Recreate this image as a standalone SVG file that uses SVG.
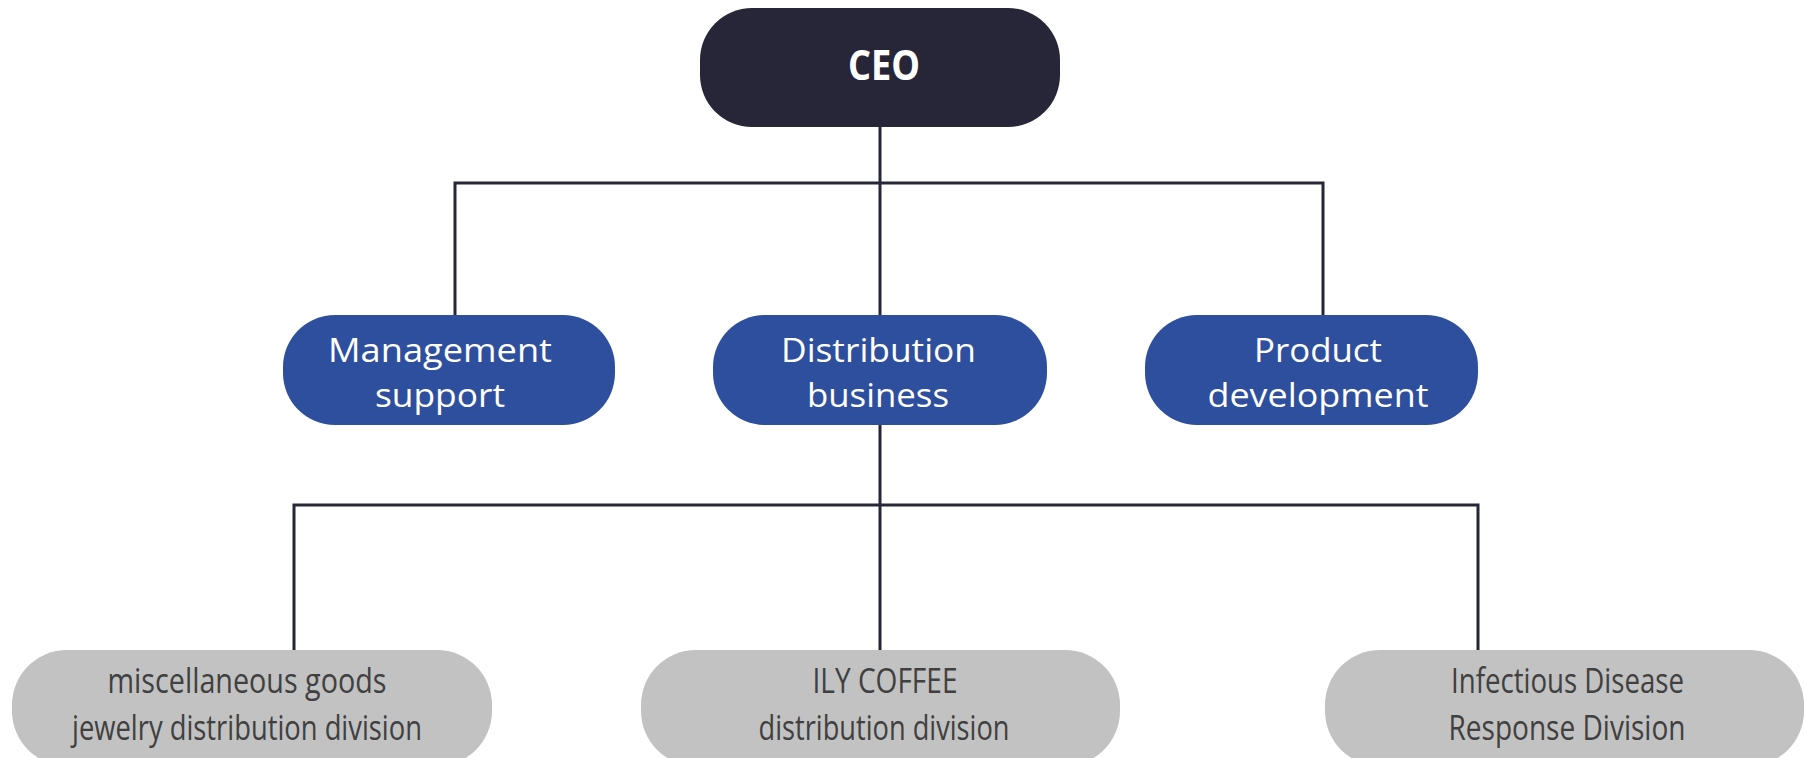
<svg xmlns="http://www.w3.org/2000/svg" width="1806" height="758" viewBox="0 0 1806 758">
<style>
.ceo{fill:#272638;}
.mid{fill:#2E4F9E;}
.low{fill:#C2C2C2;}
.conn{stroke:#272638;stroke-width:3;fill:none;stroke-linecap:square;}
.tw{font-family:"Open Sans","Noto Sans","Liberation Sans",sans-serif;fill:#FFFFFF;text-anchor:middle;}
.tb{font-weight:bold;font-size:42px;}
.tm{font-size:33px;}
.tg{font-family:"Open Sans","Noto Sans","Liberation Sans",sans-serif;fill:#404040;font-size:35px;text-anchor:middle;}
</style>
<rect width="1806" height="758" fill="#FFFFFF"/>
<g id="connectors">
<path class="conn" d="M880 127 V315"/>
<path class="conn" d="M455 315 V183 H1323 V315"/>
<path class="conn" d="M880 425 V650"/>
<path class="conn" d="M294 650 V505 H1478 V650"/>
</g>
<g id="ceo">
<rect class="ceo" x="700" y="8" width="360" height="119" rx="52" ry="52"/>
<text class="tw tb" x="884" y="80" textLength="72" lengthAdjust="spacingAndGlyphs">CEO</text>
</g>
<g id="management-support">
<rect class="mid" x="283" y="315" width="332" height="110" rx="52" ry="52"/>
<text class="tw tm"><tspan x="440" y="362" textLength="224" lengthAdjust="spacingAndGlyphs">Management</tspan><tspan x="440" y="407" textLength="130" lengthAdjust="spacingAndGlyphs">support</tspan></text>
</g>
<g id="distribution-business">
<rect class="mid" x="713" y="315" width="334" height="110" rx="52" ry="52"/>
<text class="tw tm"><tspan x="878.5" y="362" textLength="195" lengthAdjust="spacingAndGlyphs">Distribution</tspan><tspan x="878" y="407" textLength="142" lengthAdjust="spacingAndGlyphs">business</tspan></text>
</g>
<g id="product-development">
<rect class="mid" x="1145" y="315" width="333" height="110" rx="52" ry="52"/>
<text class="tw tm"><tspan x="1318" y="362" textLength="128" lengthAdjust="spacingAndGlyphs">Product</tspan><tspan x="1318" y="407" textLength="221" lengthAdjust="spacingAndGlyphs">development</tspan></text>
</g>
<g id="jewelry-division">
<rect class="low" x="12" y="650" width="480" height="116" rx="55" ry="55"/>
<text class="tg"><tspan x="247" y="693" textLength="279" lengthAdjust="spacingAndGlyphs">miscellaneous goods</tspan><tspan x="247" y="740" textLength="350" lengthAdjust="spacingAndGlyphs">jewelry distribution division</tspan></text>
</g>
<g id="ily-coffee-division">
<rect class="low" x="641" y="650" width="479" height="116" rx="55" ry="55"/>
<text class="tg"><tspan x="885" y="693" textLength="145" lengthAdjust="spacingAndGlyphs">ILY COFFEE</tspan><tspan x="884" y="740" textLength="251" lengthAdjust="spacingAndGlyphs">distribution division</tspan></text>
</g>
<g id="infectious-disease-division">
<rect class="low" x="1325" y="650" width="479" height="116" rx="55" ry="55"/>
<text class="tg"><tspan x="1567.5" y="693" textLength="233" lengthAdjust="spacingAndGlyphs">Infectious Disease</tspan><tspan x="1567" y="740" textLength="237" lengthAdjust="spacingAndGlyphs">Response Division</tspan></text>
</g>
</svg>
